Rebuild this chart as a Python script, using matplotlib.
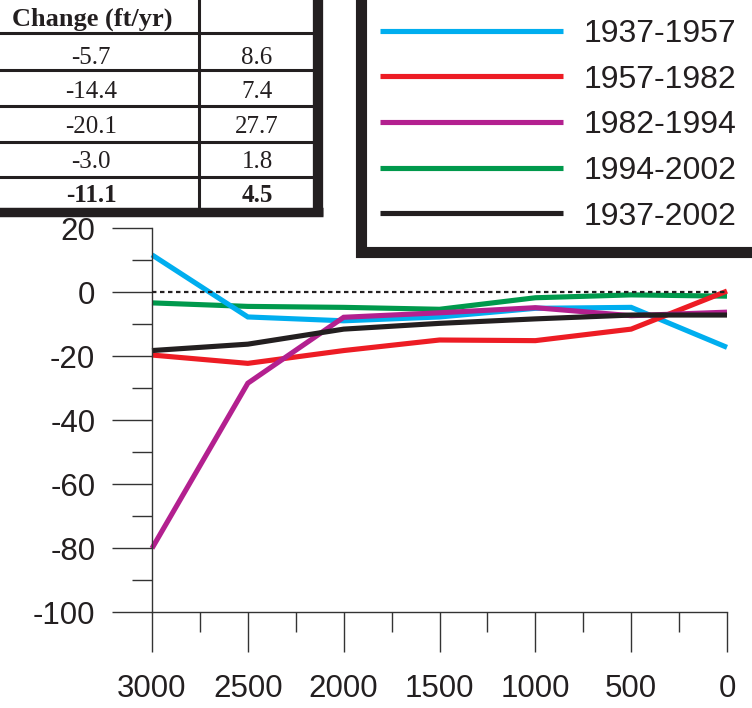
import matplotlib
matplotlib.use("Agg")
import matplotlib.pyplot as plt
from matplotlib.ticker import MultipleLocator
from matplotlib.patches import Rectangle

plt.rcParams['axes.unicode_minus'] = False

# ---- data ----
distance = [3000, 2500, 2000, 1500, 1000, 500, 0]
series_labels = ["1937-1957", "1957-1982", "1982-1994", "1994-2002", "1937-2002"]
s_1937_1957 = [11.6, -7.8, -9.0, -7.8, -5.1, -4.8, -17.3]
s_1957_1982 = [-19.7, -22.3, -18.3, -15.0, -15.2, -11.6, 0.3]
s_1982_1994 = [-80.1, -28.5, -7.9, -6.5, -4.9, -7.4, -6.3]
s_1994_2002 = [-3.4, -4.5, -4.8, -5.4, -1.8, -0.9, -1.3]
s_1937_2002 = [-18.3, -16.3, -11.6, -9.8, -8.4, -7.2, -7.2]
series_colors = ["#00AEEF", "#ED1C24", "#B3208F", "#00994C", "#231F20"]

table_header = "Change (ft/yr)"
table_col1 = [-5.7, -14.4, -20.1, -3.0, -11.1]
table_col2 = [8.6, 7.4, 27.7, 1.8, 4.5]

# ---- figure ----
W, H = 752, 708
fig = plt.figure(figsize=(W / 100, H / 100), dpi=100)

def fx(px):
    return px / W

def fy(py):
    return 1 - py / H

ax = fig.add_axes([fx(152), fy(612), fx(727) - fx(152), fy(228) - fy(612)])
ax.set_xlim(3000, 0)
ax.set_ylim(-100, 20)

lw = 3.7
series = [s_1937_1957, s_1957_1982, s_1982_1994, s_1994_2002, s_1937_2002]
order = [3, 0, 1, 2, 4]
handles = [None] * 5
for i in order:
    (ln,) = ax.plot(distance, series[i], color=series_colors[i], lw=lw,
                    solid_capstyle='butt', solid_joinstyle='miter', clip_on=False,
                    label=series_labels[i])
    handles[i] = ln

ax.axhline(0, color="#231F20", lw=1.6, ls=(0, (2.0, 1.6)), zorder=5)

for sp in ["top", "right"]:
    ax.spines[sp].set_visible(False)
for sp in ["left", "bottom"]:
    ax.spines[sp].set_linewidth(1.0)
    ax.spines[sp].set_color("#333333")

ax.yaxis.set_major_locator(MultipleLocator(20))
ax.yaxis.set_minor_locator(MultipleLocator(10))
ax.xaxis.set_major_locator(MultipleLocator(500))
ax.xaxis.set_minor_locator(MultipleLocator(250))
ax.tick_params(axis='both', which='major', length=28.8, width=1.0, color="#333333",
               labelsize=22.5, labelcolor="#231F20")
ax.tick_params(axis='both', which='minor', length=14.4, width=1.0, color="#333333")
ax.tick_params(axis='x', which='major', pad=16)
ax.tick_params(axis='y', which='major', pad=12)
for lab in ax.get_xticklabels() + ax.get_yticklabels():
    lab.set_fontfamily("Liberation Sans")

# ---- overlay for table and legend frame ----
ov = fig.add_axes([0, 0, 1, 1], zorder=10)
ov.set_xlim(0, W)
ov.set_ylim(H, 0)
ov.axis('off')
ov.patch.set_alpha(0)

# table
ov.add_patch(Rectangle((-20, -20), 318 + 20, 211 + 20, facecolor='white', edgecolor='none'))
for yl in [33, 70, 106, 142, 177]:
    ov.plot([-20, 318], [yl, yl], color='#231F20', lw=2.2, solid_capstyle='butt')
ov.plot([199, 199], [-20, 211], color='#231F20', lw=2.2, solid_capstyle='butt')
ov.plot([318, 318], [-20, 216], color='#231F20', lw=7.4, solid_capstyle='butt')
ov.plot([-20, 323], [211.5, 211.5], color='#231F20', lw=6.8, solid_capstyle='butt')

serif = "Liberation Serif"
ov.text(92, 26, table_header, ha='center', va='baseline', fontsize=19,
        fontweight='bold', family=serif, color='#231F20')
baselines = [64, 98.5, 133, 168, 202]
for k, (a, b) in enumerate(zip(table_col1, table_col2)):
    wt = 'bold' if k == len(table_col1) - 1 else 'normal'
    ov.text(91, baselines[k], f"{a:.1f}", ha='center', va='baseline', fontsize=18,
            fontweight=wt, family=serif, color='#231F20')
    ov.text(257, baselines[k], f"{b:.1f}", ha='center', va='baseline', fontsize=18,
            fontweight=wt, family=serif, color='#231F20')

# legend frame
ov.add_patch(Rectangle((361, -30), 800, 252 + 30, facecolor='white',
                       edgecolor='#231F20', lw=8.0))

leg = ov.legend(handles=handles, labels=series_labels, loc='upper left',
                bbox_to_anchor=(fx(380), fy(19)), bbox_transform=fig.transFigure,
                frameon=False, borderpad=0, borderaxespad=0,
                handlelength=5.72, handletextpad=0.66, labelspacing=0.49,
                prop={'family': 'Liberation Sans', 'size': 23})
for t in leg.get_texts():
    t.set_color('#231F20')

fig.savefig("out.png", dpi=100)
